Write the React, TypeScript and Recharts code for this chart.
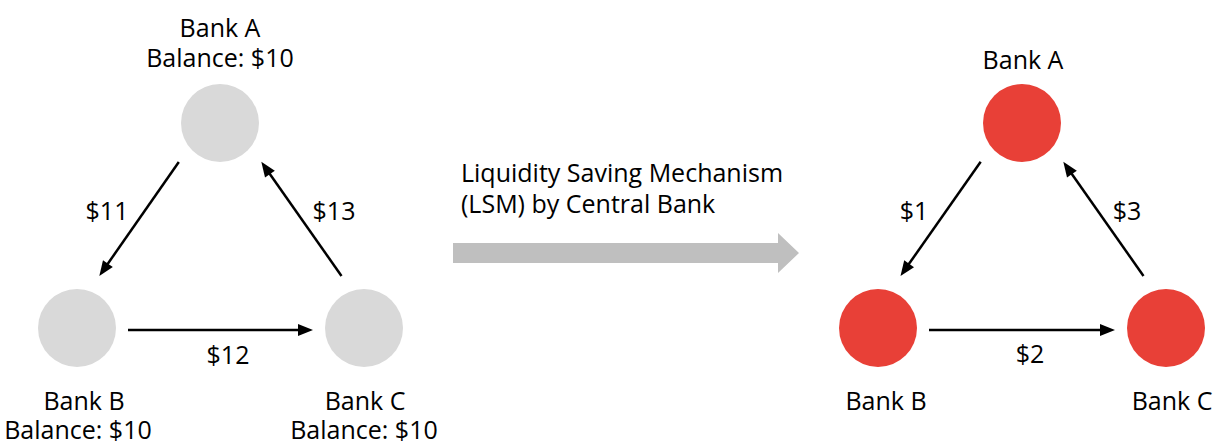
import React from "react";
import {
  ReferenceLine,
  Scatter,
  ScatterChart,
  XAxis,
  YAxis,
} from "recharts";

// banks and their balances before settlement
const banks = ["Bank A", "Bank B", "Bank C"];
const balances = [10, 10, 10];

// payments A->B, B->C, C->A
const payFrom = [0, 1, 2];
const payTo = [1, 2, 0];
const grossPayments = [11, 12, 13];
const netPayments = [1, 2, 3];

// node positions in diagram units
const beforeX = [220, 77, 364];
const beforeY = [123, 328, 328];
const afterX = [1022, 878, 1166];
const afterY = [123, 328, 328];

const lsmText = ["Liquidity Saving Mechanism", "(LSM) by Central Bank"];

const W = 1216;
const H = 443;
const FONT = "'Open Sans', 'Noto Sans', sans-serif";

const nodes = (xs: number[], ys: number[]) =>
  banks.map((name, i) => ({ x: xs[i], y: ys[i], name }));

const beforeNodes = nodes(beforeX, beforeY);
const afterNodes = nodes(afterX, afterY);

// offsets for the payment labels, relative to the midpoint between nodes
const labelShift = [
  { dx: -41.5, dy: -15.5 },
  { dx: 7.5, dy: 26 },
  { dx: 42, dy: -15.5 },
];
const labelShiftNet = [
  { dx: -36, dy: -15.5 },
  { dx: 8, dy: 25 },
  { dx: 33, dy: -15.5 },
];

const arrows = (xs: number[], ys: number[]) => {
  const cx = (xs[0] + xs[1] + xs[2]) / 3;
  const cy = (ys[0] + ys[1] + ys[2]) / 3;
  return payFrom.map((f, i) => {
    const t = payTo[i];
    const vx = xs[t] - xs[f];
    const vy = ys[t] - ys[f];
    const len = Math.sqrt(vx * vx + vy * vy);
    const ux = vx / len;
    const uy = vy / len;
    const flat = Math.abs(vy) < 5;
    const gap = flat ? 51 : 55.5;
    const mx = (xs[f] + xs[t]) / 2;
    const my = (ys[f] + ys[t]) / 2;
    // push the arrow a bit away from the triangle centre
    let nx = -uy;
    let ny = ux;
    if (nx * (mx - cx) + ny * (my - cy) < 0) {
      nx = -nx;
      ny = -ny;
    }
    const off = flat ? 2 : 11.5;
    return {
      x1: xs[f] + ux * gap + nx * off,
      y1: ys[f] + uy * gap + ny * off,
      x2: xs[t] - ux * gap + nx * off,
      y2: ys[t] - uy * gap + ny * off,
      mx,
      my,
    };
  });
};

const beforeArrows = arrows(beforeX, beforeY);
const afterArrows = arrows(afterX, afterY);

const nameShift = [0, 7, 1];
const balanceShift = [0, 1, 0];

const labels = [
  // left panel bank names + balances
  ...beforeNodes.map((n, i) => ({
    x: n.x + nameShift[i],
    y: n.y + (i === 0 ? -96 : 72),
    text: n.name,
  })),
  ...beforeNodes.map((n, i) => ({
    x: n.x + balanceShift[i],
    y: n.y + (i === 0 ? -66 : 101),
    text: `Balance: $${balances[i]}`,
  })),
  ...beforeArrows.map((a, i) => ({
    x: a.mx + labelShift[i].dx,
    y: a.my + labelShift[i].dy,
    text: `$${grossPayments[i]}`,
  })),
  // right panel
  ...afterNodes.map((n, i) => ({
    x: n.x + (i === 0 ? 1 : i === 1 ? 8 : 6),
    y: n.y + (i === 0 ? -64 : 72),
    text: n.name,
  })),
  ...afterArrows.map((a, i) => ({
    x: a.mx + labelShiftNet[i].dx,
    y: a.my + labelShiftNet[i].dy,
    text: `$${netPayments[i]}`,
  })),
];

const midText = lsmText.map((text, i) => ({ x: 461, y: 172 + i * 31, text }));

const Dot = (fill: string) => (p: any) =>
  <circle cx={p.cx} cy={p.cy} r={39} fill={fill} />;

const Label = (anchor: string) => (p: any) => (
  <text
    x={p.cx}
    y={p.cy}
    textAnchor={anchor}
    dominantBaseline="central"
    fontSize={25}
    fontFamily={FONT}
    fill="#000"
  >
    {p.payload?.text ?? p.text}
  </text>
);

const ArrowShape = (p: any) => {
  const { x1, y1, x2, y2 } = p;
  const dx = x2 - x1;
  const dy = y2 - y1;
  const len = Math.sqrt(dx * dx + dy * dy);
  const ux = dx / len;
  const uy = dy / len;
  const hl = 15;
  const hw = 6;
  const bx = x2 - ux * hl;
  const by = y2 - uy * hl;
  return (
    <g>
      <line x1={x1} y1={y1} x2={bx + ux * 2} y2={by + uy * 2} stroke="#000" strokeWidth={2.5} />
      <polygon
        points={`${x2},${y2} ${bx - uy * hw},${by + ux * hw} ${bx + uy * hw},${by - ux * hw}`}
        fill="#000"
      />
    </g>
  );
};

const BigArrow = (p: any) => {
  const { x1, y1, x2 } = p;
  const head = 21;
  const body = 10;
  const hh = 20;
  const bx = x2 - head;
  return (
    <polygon
      points={`${x1},${y1 - body} ${bx},${y1 - body} ${bx},${y1 - hh} ${x2},${y1} ${bx},${y1 + hh} ${bx},${y1 + body} ${x1},${y1 + body}`}
      fill="#bfbfbf"
    />
  );
};

export default function App() {
  return (
    <div style={{ position: "absolute", left: 0, top: 0, background: "#fff" }}>
      <ScatterChart width={W} height={H} margin={{ top: 0, right: 0, bottom: 0, left: 0 }}>
        <XAxis type="number" dataKey="x" domain={[0, W]} hide />
        <YAxis type="number" dataKey="y" domain={[0, H]} reversed hide />
        <ReferenceLine
          segment={[
            { x: 453, y: 253 },
            { x: 799, y: 253 },
          ]}
          shape={BigArrow}
        />
        {[...beforeArrows, ...afterArrows].map((a, i) => (
          <ReferenceLine
            key={i}
            segment={[
              { x: a.x1, y: a.y1 },
              { x: a.x2, y: a.y2 },
            ]}
            shape={ArrowShape}
          />
        ))}
        <Scatter data={beforeNodes} shape={Dot("#d9d9d9")} isAnimationActive={false} />
        <Scatter data={afterNodes} shape={Dot("#e84037")} isAnimationActive={false} />
        <Scatter data={labels} shape={Label("middle")} isAnimationActive={false} />
        <Scatter data={midText} shape={Label("start")} isAnimationActive={false} />
      </ScatterChart>
    </div>
  );
}
